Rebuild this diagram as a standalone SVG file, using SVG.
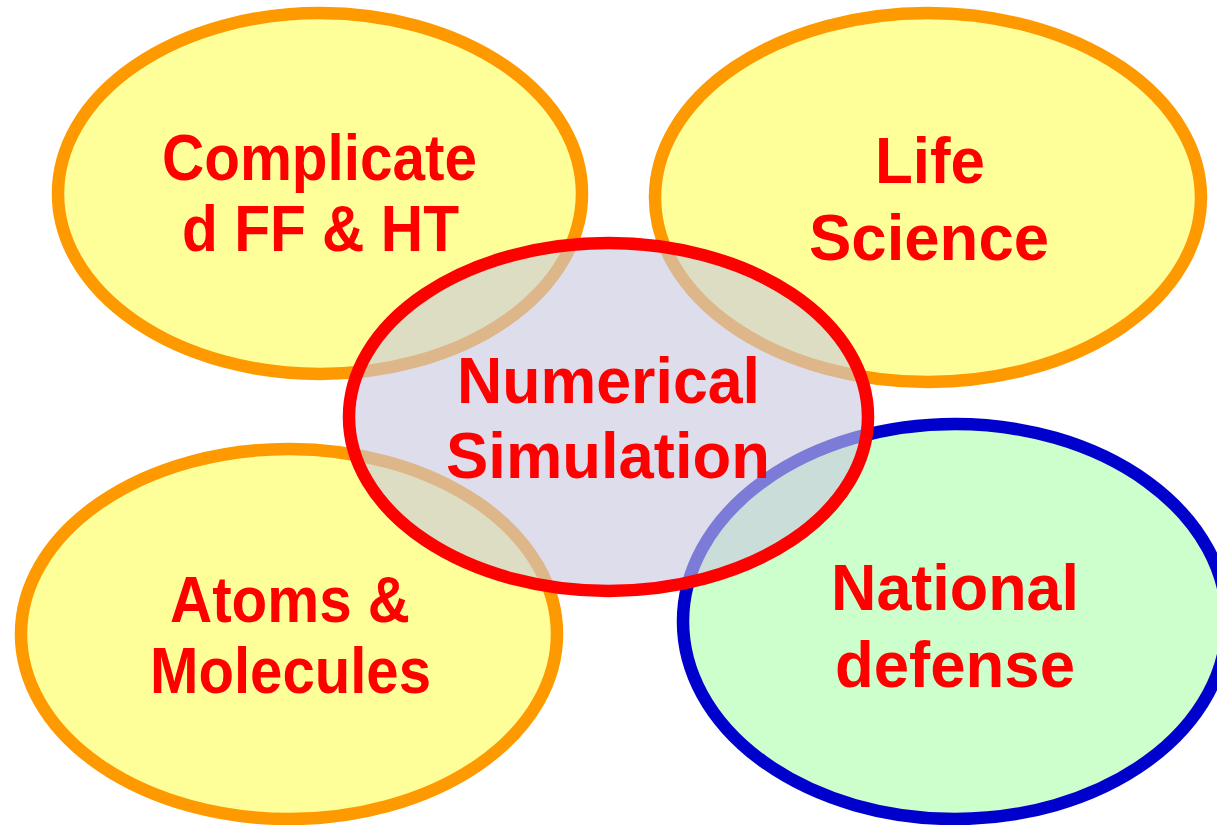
<svg xmlns="http://www.w3.org/2000/svg" width="1217" height="825" viewBox="0 0 1217 825">
  <style>
    .ell { stroke-width: 12.5; }
    .yel { fill: #FFFF99; stroke: #FF9900; }
    .grn { fill: #CCFFCC; stroke: #0000CC; }
    .ctr { fill: #C8C8DE; fill-opacity: 0.62; stroke: #FF0000; }
    .lbl { font-family: "Liberation Sans", Arial, sans-serif; font-weight: bold; font-size: 64px; fill: #FF0000; text-anchor: middle; }
  </style>
  <rect width="1217" height="825" fill="#FFFFFF"/>
  <g id="node-complicated">
    <ellipse class="ell yel" cx="320" cy="193.5" rx="262" ry="180.5"/>
    <text class="lbl" x="319.5" y="180" textLength="315" lengthAdjust="spacingAndGlyphs">Complicate</text>
    <text class="lbl" x="320.5" y="251" textLength="277" lengthAdjust="spacingAndGlyphs">d FF &amp; HT</text>
  </g>
  <g id="node-life">
    <ellipse class="ell yel" cx="928" cy="197.5" rx="273" ry="184.5"/>
    <text class="lbl" x="930" y="183" textLength="110" lengthAdjust="spacingAndGlyphs">Life</text>
    <text class="lbl" x="929" y="260" textLength="240" lengthAdjust="spacingAndGlyphs">Science</text>
  </g>
  <g id="node-atoms">
    <ellipse class="ell yel" cx="289" cy="634" rx="268" ry="185"/>
    <text class="lbl" x="290" y="622" textLength="240" lengthAdjust="spacingAndGlyphs">Atoms &amp;</text>
    <text class="lbl" x="290.5" y="693" textLength="281" lengthAdjust="spacingAndGlyphs">Molecules</text>
  </g>
  <g id="node-defense">
    <ellipse class="ell grn" cx="955" cy="621.5" rx="272" ry="197.5"/>
    <text class="lbl" x="955" y="610" textLength="248" lengthAdjust="spacingAndGlyphs">National</text>
    <text class="lbl" x="955" y="687" textLength="240" lengthAdjust="spacingAndGlyphs">defense</text>
  </g>
  <g id="node-numerical">
    <ellipse class="ell ctr" cx="608.5" cy="417" rx="259.5" ry="174"/>
    <text class="lbl" x="608.5" y="403" textLength="303" lengthAdjust="spacingAndGlyphs">Numerical</text>
    <text class="lbl" x="608" y="478" textLength="324" lengthAdjust="spacingAndGlyphs">Simulation</text>
  </g>
  <g id="connectors"/>
</svg>
